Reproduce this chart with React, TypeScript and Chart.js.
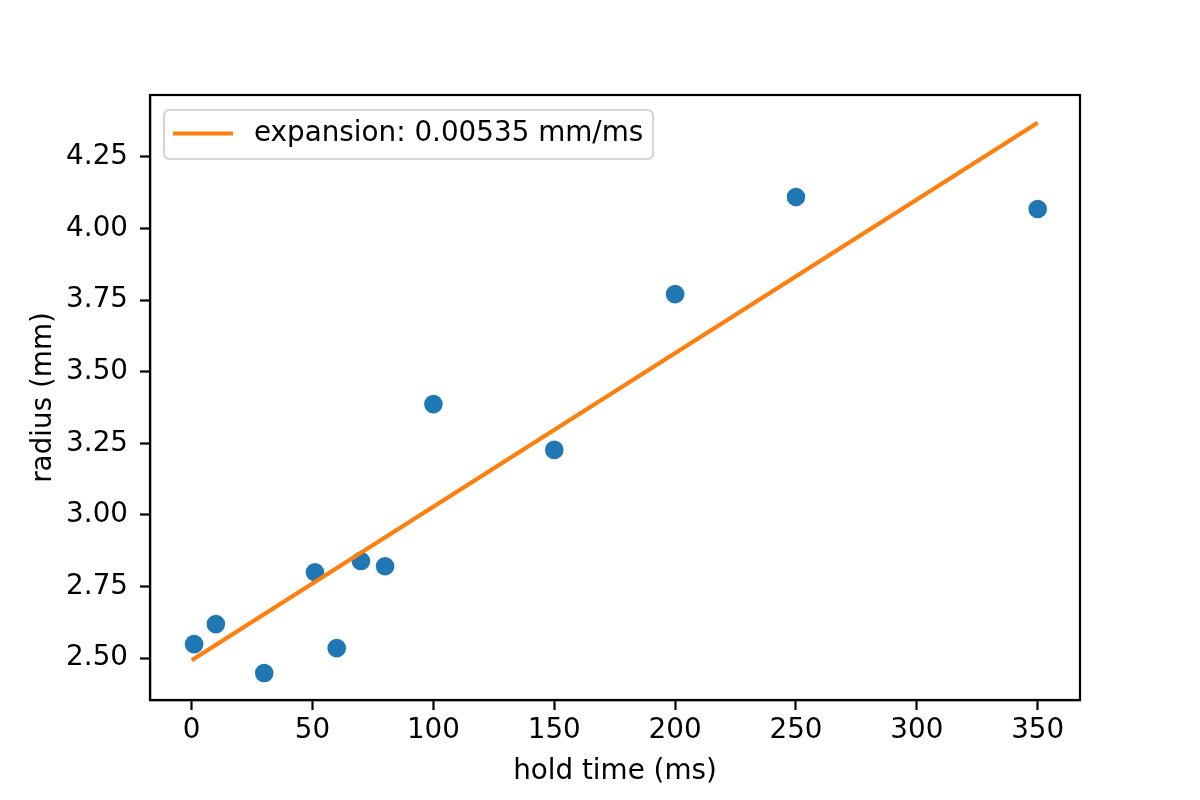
import React, { useEffect, useRef } from "react";
import { Chart, registerables } from "chart.js";

Chart.register(...registerables);

const holdTime = [1, 10, 30, 51, 60, 70, 80, 100, 150, 200, 250, 350];
const radius = [2.549, 2.619, 2.448, 2.8, 2.535, 2.839, 2.821, 3.387, 3.227, 3.771, 4.11, 4.068];
const fitX = [0, 350];
const fitY = [2.493, 4.369];
const fitLabel = "expansion: 0.00535 mm/ms";
const xTicks = [0, 50, 100, 150, 200, 250, 300, 350];
const yTicks = [2.5, 2.75, 3.0, 3.25, 3.5, 3.75, 4.0, 4.25];
const xTitle = "hold time (ms)";
const yTitle = "radius (mm)";

const FONT = "'DejaVu Sans', sans-serif";
const FS = 27.8;

const framePlugin = {
  id: "frame",
  afterDatasetsDraw(chart: any) {
    const { ctx, chartArea: a } = chart;
    ctx.save();
    ctx.strokeStyle = "#000";
    ctx.lineWidth = 2.2;
    ctx.strokeRect(a.left, a.top, a.right - a.left, a.bottom - a.top);

    // legend
    const x0 = a.left + 14, y0 = a.top + 15, w = 489, h = 49, r = 6;
    ctx.beginPath();
    ctx.moveTo(x0 + r, y0);
    ctx.lineTo(x0 + w - r, y0);
    ctx.quadraticCurveTo(x0 + w, y0, x0 + w, y0 + r);
    ctx.lineTo(x0 + w, y0 + h - r);
    ctx.quadraticCurveTo(x0 + w, y0 + h, x0 + w - r, y0 + h);
    ctx.lineTo(x0 + r, y0 + h);
    ctx.quadraticCurveTo(x0, y0 + h, x0, y0 + h - r);
    ctx.lineTo(x0, y0 + r);
    ctx.quadraticCurveTo(x0, y0, x0 + r, y0);
    ctx.closePath();
    ctx.fillStyle = "rgba(255,255,255,0.8)";
    ctx.fill();
    ctx.strokeStyle = "rgba(204,204,204,0.8)";
    ctx.lineWidth = 2.2;
    ctx.stroke();

    const cy = y0 + h / 2 - 1;
    ctx.beginPath();
    ctx.moveTo(x0 + 9, cy);
    ctx.lineTo(x0 + 69, cy);
    ctx.strokeStyle = "#ff7f0e";
    ctx.lineWidth = 4.2;
    ctx.stroke();

    ctx.fillStyle = "#000";
    ctx.font = `${FS}px ${FONT}`;
    ctx.textBaseline = "middle";
    ctx.textAlign = "left";
    ctx.fillText(fitLabel, x0 + 90, cy);
    ctx.restore();
  },
};

export default function App() {
  const ref = useRef<HTMLCanvasElement>(null);
  useEffect(() => {
    document.body.style.margin = "0";
    const chart = new Chart(ref.current as HTMLCanvasElement, {
      type: "scatter",
      data: {
        datasets: [
          {
            type: "scatter",
            label: "data",
            data: holdTime.map((x, i) => ({ x, y: radius[i] })),
            backgroundColor: "#1f77b4",
            borderColor: "#1f77b4",
            pointRadius: 9.3,
            borderWidth: 0,
            order: 2,
          },
          {
            type: "line",
            label: fitLabel,
            data: fitX.map((x, i) => ({ x, y: fitY[i] })),
            borderColor: "#ff7f0e",
            backgroundColor: "#ff7f0e",
            borderWidth: 4.2,
            pointRadius: 0,
            showLine: true,
            fill: false,
            order: 1,
          } as any,
        ],
      },
      options: {
        animation: false,
        responsive: false,
        devicePixelRatio: 1,
        layout: { padding: { left: 0, top: 95, right: 120, bottom: 0 } },
        plugins: { legend: { display: false }, tooltip: { enabled: false } },
        scales: {
          x: {
            type: "linear",
            min: -17.25,
            max: 367.5,
            afterBuildTicks: (s: any) => {
              s.ticks = xTicks.map((v) => ({ value: v }));
            },
            afterFit: (s: any) => {
              s.height = 100;
            },
            grid: { drawOnChartArea: false, drawTicks: true, tickLength: 10, tickColor: "#000", tickWidth: 2.2 },
            border: { display: true, color: "#000", width: 2.2 },
            ticks: {
              color: "#000",
              font: { family: FONT, size: FS },
              padding: 4,
              maxRotation: 0,
              autoSkip: false,
              callback: (v: any) => String(v),
            },
            title: {
              display: true,
              text: xTitle,
              color: "#000",
              font: { family: FONT, size: FS, lineHeight: 1.2 },
              padding: { top: 0, bottom: 12 },
            },
          },
          y: {
            type: "linear",
            min: 2.354,
            max: 4.466,
            afterBuildTicks: (s: any) => {
              s.ticks = yTicks.map((v) => ({ value: v }));
            },
            afterFit: (s: any) => {
              s.width = 150;
            },
            grid: { drawOnChartArea: false, drawTicks: true, tickLength: 10, tickColor: "#000", tickWidth: 2.2 },
            border: { display: true, color: "#000", width: 2.2 },
            ticks: {
              color: "#000",
              font: { family: FONT, size: FS },
              padding: 12,
              autoSkip: false,
              callback: (v: any) => Number(v).toFixed(2),
            },
            title: {
              display: true,
              text: yTitle,
              color: "#000",
              font: { family: FONT, size: FS, lineHeight: 1.2 },
              padding: { top: 27, bottom: 0 },
            },
          },
        },
      },
      plugins: [framePlugin],
    });
    return () => chart.destroy();
  }, []);
  return (
    <div style={{ position: "absolute", left: 0, top: 0, width: 1200, height: 800, background: "#fff" }}>
      <canvas ref={ref} width={1200} height={800} style={{ width: 1200, height: 800 }} />
    </div>
  );
}
